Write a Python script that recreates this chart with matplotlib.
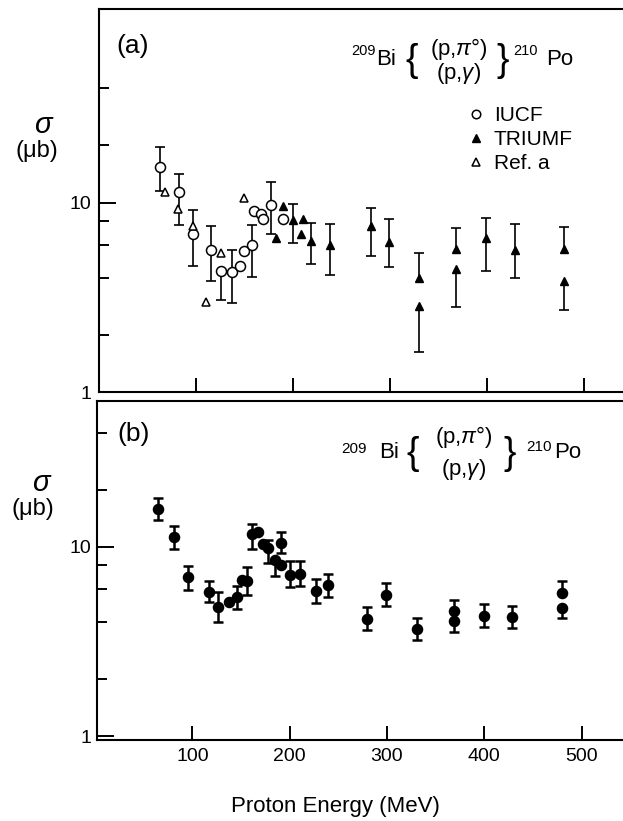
import matplotlib
matplotlib.use('Agg')
import matplotlib.pyplot as plt
import numpy as np

plt.rcParams['font.family'] = ['Liberation Sans', 'DejaVu Sans']
plt.rcParams['mathtext.fontset'] = 'custom'
plt.rcParams['mathtext.rm'] = 'Liberation Sans'
plt.rcParams['mathtext.it'] = 'Liberation Sans:italic'

nan = np.nan

# ---- panel (a) ----
iucf_e = [63, 82.5, 97, 116, 126, 138, 146, 150, 158, 160, 167, 169, 178, 190]
iucf_v = [15.4, 11.3, 6.85, 5.6, 4.35, 4.3, 4.65, 5.55, 5.95, 9.0, 8.75, 8.15, 9.75, 8.15]
iucf_lo = [11.5, 7.6, 4.65, 3.85, 3.05, 2.97, nan, nan, 4.05, nan, nan, nan, 6.8, nan]
iucf_hi = [19.6, 14.2, 9.1, 7.5, nan, 5.6, nan, nan, 7.65, nan, nan, nan, 12.9, nan]

refa_e = [68, 81.5, 97, 110.5, 126, 150]
refa_v = [11.3, 9.2, 7.5, 3.0, 5.4, 10.5]

triumf_e = [183, 190, 200.5, 210.5, 209, 219, 238, 281, 299.5, 330, 330, 368, 368, 399, 429, 479.5, 479.5]
triumf_v = [6.5, 9.6, 8.05, 8.2, 6.85, 6.25, 5.95, 7.5, 6.2, 4.0, 2.85, 5.7, 4.45, 6.5, 5.65, 5.7, 3.85]
triumf_lo = [nan, nan, 6.15, nan, nan, 4.75, 4.15, 5.2, 4.6, nan, 1.64, nan, 2.8, 4.35, 3.98, nan, 2.7]
triumf_hi = [nan, nan, 9.8, nan, nan, 7.8, 7.7, 9.4, 8.2, 5.4, nan, 7.3, nan, 8.3, 7.75, 7.4, nan]

# ---- panel (b) ----
all_e = [64.5, 81.5, 96, 117.5, 126, 138, 145.5, 151, 156, 161, 167, 173, 178, 185, 191, 191,
         200, 211, 227, 239, 280, 299, 330.5, 369, 369, 400, 429, 479.5, 479.5]
all_v = [15.9, 11.25, 6.92, 5.81, 4.84, 5.14, 5.47, 6.7, 6.65, 11.7, 12.05, 10.4, 9.85, 8.5, 10.5, 8.0,
         7.11, 7.17, 5.88, 6.3, 4.17, 5.58, 3.68, 4.61, 4.08, 4.34, 4.26, 5.7, 4.75]
all_lo = [13.9, 9.73, 5.93, 5.14, 4.0, nan, 4.72, nan, 5.58, 9.73, nan, nan, 8.26, 7.0, 9.3, nan,
          6.17, 6.23, 5.08, 5.43, 3.65, 4.88, 3.23, nan, 3.55, 3.79, 3.72, nan, 4.2]
all_hi = [18.1, 12.9, 7.94, 6.62, 5.81, nan, 6.23, nan, 7.8, 13.2, nan, nan, 10.9, nan, 12.0, nan,
          8.42, 8.42, 6.74, 7.17, 4.84, 6.43, 4.2, 5.25, nan, 4.98, 4.88, 6.62, nan]

W, H = 623, 821
fig = plt.figure(figsize=(W / 100, H / 100), dpi=100)


def box(l, t, r, b):
    return [l / W, 1 - b / H, (r - l) / W, (b - t) / H]


def ptext(x, y, s, **kw):
    fig.text(x / W, 1 - y / H, s, **kw)


def bars(ax, e, v, lo, hi, lw, cap):
    e, v, lo, hi = [np.asarray(a, dtype=float) for a in (e, v, lo, hi)]
    up = ~np.isnan(hi)
    dn = ~np.isnan(lo)
    ax.vlines(e[up], v[up], hi[up], colors='k', lw=lw, zorder=2)
    ax.vlines(e[dn], lo[dn], v[dn], colors='k', lw=lw, zorder=2)
    ax.plot(e[up], hi[up], ls='none', marker='_', ms=cap, mew=lw, color='k', zorder=2)
    ax.plot(e[dn], lo[dn], ls='none', marker='_', ms=cap, mew=lw, color='k', zorder=2)


def style(ax):
    ax.set_yscale('log')
    for s in ax.spines.values():
        s.set_linewidth(1.5)
    ax.set_xticks([100, 200, 300, 400, 500])
    ax.set_yticks([1, 10])
    ax.set_yticklabels(['1', '10'])
    ax.set_yticks([2, 4, 6, 8, 20, 40], minor=True)
    ax.yaxis.set_minor_formatter(matplotlib.ticker.NullFormatter())
    ax.tick_params(axis='y', which='major', direction='in', length=12, width=1.4,
                   labelsize=14, pad=5)
    ax.tick_params(axis='y', which='minor', direction='in', length=7.5, width=1.4)
    ax.tick_params(axis='x', which='major', direction='in', length=10, width=1.4,
                   labelsize=14, pad=6)
    ax.tick_params(axis='x', which='minor', bottom=False)


axA = fig.add_axes(box(98.5, 9.5, 98.5 + 560 * 0.971, 392.3))
style(axA)
axA.set_xlim(0, 560)
axA.set_ylim(1, 104)
axA.tick_params(axis='x', labelbottom=False)

bars(axA, iucf_e, iucf_v, iucf_lo, iucf_hi, 1.2, 7.5)
bars(axA, triumf_e, triumf_v, triumf_lo, triumf_hi, 1.2, 7.5)
h1, = axA.plot(iucf_e, iucf_v, ls='none', marker='o', ms=7.2, mfc='white', mec='k', mew=1.1,
               zorder=3, label='IUCF')
h2, = axA.plot(triumf_e, triumf_v, ls='none', marker='^', ms=6.3, mfc='k', mec='k',
               zorder=3, label='TRIUMF')
h3, = axA.plot(refa_e, refa_v, ls='none', marker='^', ms=6, mfc='white', mec='k', mew=1.1,
               zorder=3, label='Ref. a')
leg = axA.legend(handles=[h1, h2, h3], loc='upper left', frameon=False,
                 bbox_to_anchor=(470 / W, 1 - 106 / H), bbox_transform=fig.transFigure,
                 fontsize=15, handlelength=0.6, handletextpad=0.55, labelspacing=0.25,
                 borderpad=0, borderaxespad=0, markerscale=0.85)

axB = fig.add_axes(box(96.5, 400.7, 96.5 + 558.5 * 0.973, 739.5))
style(axB)
axB.set_xlim(1.5, 560)
axB.set_ylim(0.963, 59.2)
axB.tick_params(axis='y', pad=4)

bars(axB, all_e, all_v, all_lo, all_hi, 1.8, 7.7)
axB.plot(all_e, all_v, ls='none', marker='o', ms=7.3, mfc='k', mec='k', zorder=3)

# panel labels and reaction formulas
ptext(116, 46, '(a)', fontsize=19, va='center')
ptext(117, 434, '(b)', fontsize=19, va='center')

channels = '(p,$\\it{\\pi}$°)\n(p,$\\it{\\gamma}$)'

# (a) formula
ptext(351, 55, '209', fontsize=10.5, va='baseline')
ptext(376, 65, 'Bi', fontsize=16, va='baseline')
ptext(405, 61, '{', fontsize=27, va='center')
ptext(459, 61, channels, fontsize=16, ha='center', va='center', linespacing=1.0)
ptext(496, 61, '}', fontsize=27, va='center')
ptext(513, 55, '210', fontsize=10.5, va='baseline')
ptext(546, 65, 'Po', fontsize=16, va='baseline')

# (b) formula
ptext(341, 453, '209', fontsize=11, va='baseline')
ptext(379, 458, 'Bi', fontsize=16, va='baseline')
ptext(406, 454, '{', fontsize=27, va='center')
ptext(464, 453, channels, fontsize=16, ha='center', va='center', linespacing=1.35)
ptext(503, 454, '}', fontsize=27, va='center')
ptext(526, 451, '210', fontsize=11, va='baseline')
ptext(554, 458, 'Po', fontsize=16, va='baseline')

# y labels
ptext(43, 133, 'σ', fontsize=21, style='italic', ha='center', va='baseline')
ptext(37, 151, '(μb)', fontsize=17, ha='center', va='center')
ptext(41, 491, 'σ', fontsize=21, style='italic', ha='center', va='baseline')
ptext(33, 509, '(μb)', fontsize=17, ha='center', va='center')

ptext(335, 806, 'Proton Energy (MeV)', fontsize=16, ha='center', va='center')

fig.savefig('out.png', dpi=100)
